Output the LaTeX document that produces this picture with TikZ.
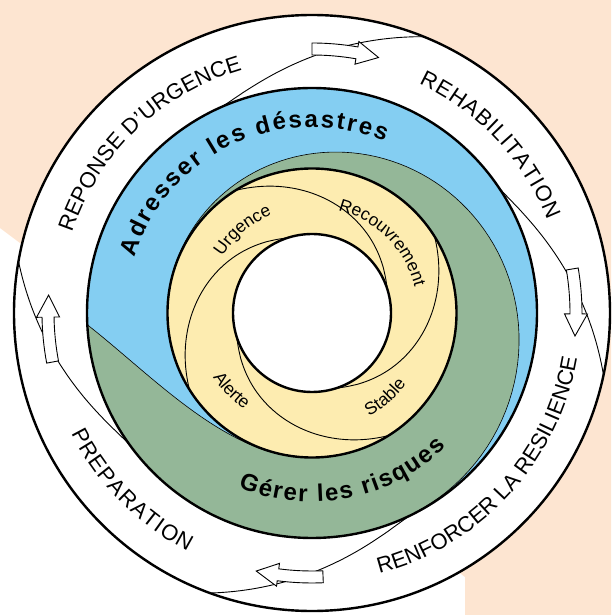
\documentclass[tikz,border=0pt]{standalone}
\usepackage{fontspec}
\setmainfont{Liberation Sans}
\usepackage{xcolor}
\usepackage{tikz}
\usetikzlibrary{decorations.text}

\definecolor{peach}{RGB}{253,229,209}
\definecolor{skyband}{RGB}{132,206,242}
\definecolor{sageband}{RGB}{148,183,152}
\definecolor{creamband}{RGB}{253,236,176}

\begin{document}
\begin{tikzpicture}[
    x=1pt, y=1pt,
    ring/.style = {draw=black, line width=2.4pt},
    swirl/.style = {draw=black, line width=0.9pt},
    edge/.style = {draw=black, line width=0.6pt},
    hollow/.style = {draw=black, fill=white, line width=0.9pt},
    outertext/.style = {decorate, decoration={text along path, text align=fit to path, text={|\fontsize{22}{26}\selectfont|#1}}},
    bandtext/.style = {decorate, decoration={text along path, text align=fit to path, text={|\bfseries\fontsize{24}{28}\selectfont|#1}}},
    phasetext/.style = {decorate, decoration={text along path, text align=center, text={|\fontsize{17.5}{21}\selectfont|#1}}}
]
    \useasboundingbox (-312,-302) rectangle (299,313);
    \fill[peach] (-312,313) -- (299,313) -- (299,-302) -- (153,-302) -- (153,-264) -- (-312,85) -- cycle;

    \draw[ring, fill=white] (0,0) circle[radius=298];
    \foreach \s in {114, 34, -64, 216}
        \draw[swirl] plot[domain=0.001:1, samples=50, variable=\t] ({\s-46*\t}:{225+73*\t^1.3});
    \foreach \a [evaluate=\a as \b using \a-9.8, evaluate=\a as \c using \a-14.6] in {90, 9.6, -87.6, 190.7}
        \draw[hollow] (\a:258) arc[start angle=\a, end angle=\b, radius=258] -- (\b:252.5) -- (\c:264)
            -- (\b:275.5) -- (\b:270) arc[start angle=\b, end angle=\a, radius=270] -- cycle;

    \fill[skyband] (0,0) circle[radius=225];
    \fill[sageband] (-69:225) arc[start angle=-69, end angle=-177, radius=225]
        .. controls (-169.5,-54.9) and (-109.3,-118.2) .. (253:145)
        arc[start angle=253, end angle=165, radius=145]
        -- plot[domain=0:1, samples=90, variable=\t] ({165-234*\t}:{145+80*((1-cos(180*\t))/2)*(0.7+0.3*(1-cos(180*\t))/2)})
        -- cycle;
    \draw[edge] (183:225) .. controls (-169.5,-54.9) and (-109.3,-118.2) .. (253:145);
    \draw[edge] plot[domain=0:1, samples=90, variable=\t] ({165-234*\t}:{145+80*((1-cos(180*\t))/2)*(0.7+0.3*(1-cos(180*\t))/2)});
    \draw[ring] (0,0) circle[radius=225];

    \draw[ring, fill=creamband] (0,0) circle[radius=144.5];
    \foreach \s in {122, 32, -58, -148}
        \draw[swirl] plot[domain=0:0.999, samples=50, variable=\t] ({\s-105*\t}:{79+65.5*(1-\t)^1.3});
    \draw[ring, fill=white] (0,0) circle[radius=79];

    \path[outertext={REPONSE D’URGENCE}] (161.5:253) arc[start angle=161.5, end angle=106, radius=253];
    \path[outertext={REHABILITATION}] (65:253) arc[start angle=65, end angle=21.5, radius=253];
    \path[outertext={RENFORCER LA RESILIENCE}] (-75.5:269) arc[start angle=-75.5, end angle=-10, radius=269];
    \path[outertext={PREPARATION}] (206.5:269) arc[start angle=206.5, end angle=242.5, radius=269];

    \path[bandtext={Adresser les désastres}] (162.5:186) arc[start angle=162.5, end angle=67, radius=186];
    \path[bandtext={Gérer les risques}] (247:189) arc[start angle=247, end angle=315, radius=189];

    \path[phasetext={Urgence}] (175:106) arc[start angle=175, end angle=85, radius=106];
    \path[phasetext={Recouvrement}] (100:106) arc[start angle=100, end angle=-10, radius=106];
    \path[phasetext={Stable}] (-94:118) arc[start angle=-94, end angle=-4, radius=118];
    \path[phasetext={Alerte}] (179:118) arc[start angle=179, end angle=269, radius=118];
\end{tikzpicture}
\end{document}
